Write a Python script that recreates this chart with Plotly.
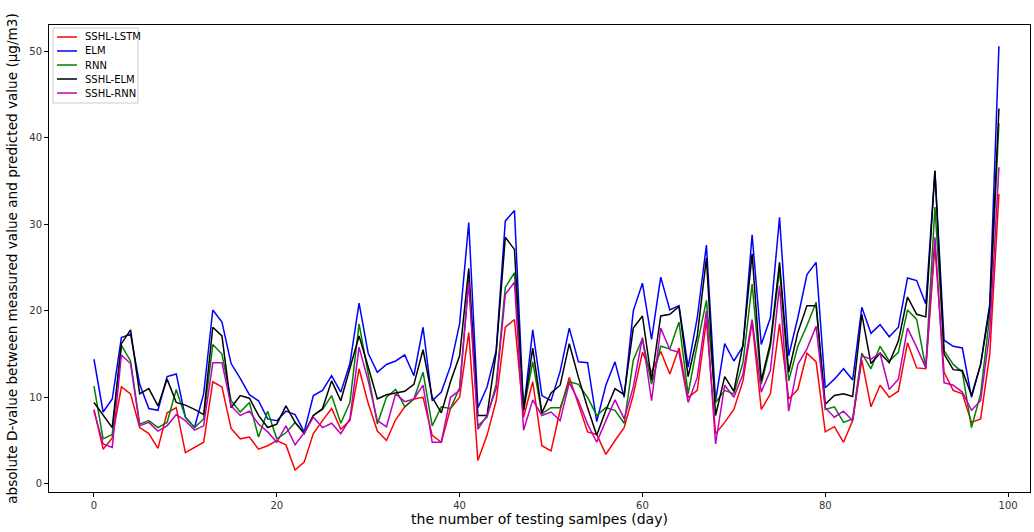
import plotly.graph_objects as go

days = list(range(100))

sshl_lstm = [8.6, 4.0, 5.3, 11.2, 10.4, 6.5, 5.8, 4.1, 8.2, 8.8,
             3.6, 4.2, 4.8, 11.8, 11.2, 6.4, 5.2, 5.4, 4.0, 4.4,
             5.0, 4.5, 1.6, 2.5, 5.8, 7.3, 8.7, 6.3, 7.3, 13.3,
             9.3, 6.1, 5.0, 7.4, 8.9, 9.8, 10.0, 5.6, 4.8, 8.7,
             10.0, 17.5, 2.7, 5.6, 9.6, 18.1, 19.0, 7.7, 11.8, 4.4,
             3.8, 8.5, 12.3, 9.2, 6.0, 5.7, 3.4, 5.0, 6.5, 10.3,
             15.2, 12.9, 15.3, 12.7, 15.7, 10.0, 10.8, 18.9, 5.8, 7.1,
             8.6, 11.9, 18.7, 8.6, 10.4, 18.5, 9.8, 10.9, 15.1, 14.1,
             6.0, 6.6, 4.8, 7.3, 14.3, 8.9, 11.4, 10.0, 10.7, 16.3,
             13.4, 13.3, 27.5, 12.9, 10.8, 10.4, 7.1, 7.5, 15.0, 33.5]

elm = [14.4, 8.3, 9.8, 16.9, 17.3, 11.5, 8.7, 8.5, 12.4, 12.7,
       7.7, 6.5, 10.4, 20.1, 18.7, 13.9, 12.2, 10.3, 9.6, 7.5,
       7.3, 8.4, 8.0, 6.0, 10.2, 10.8, 12.5, 10.6, 13.9, 20.9,
       15.1, 12.9, 13.8, 14.2, 14.9, 12.5, 18.1, 9.6, 10.6, 13.6,
       18.5, 30.2, 8.8, 11.2, 15.4, 30.4, 31.6, 8.5, 17.8, 10.2,
       9.6, 13.0, 18.0, 14.1, 14.0, 7.2, 11.4, 14.1, 10.0, 20.0,
       23.2, 16.7, 23.9, 20.1, 20.6, 13.5, 19.2, 27.6, 9.6, 16.2,
       14.2, 15.9, 28.8, 16.1, 19.2, 30.8, 14.8, 19.2, 24.2, 25.6,
       11.1, 12.1, 13.3, 12.0, 20.4, 17.4, 18.4, 17.0, 18.1, 23.8,
       23.5, 20.8, 36.2, 16.6, 15.9, 15.7, 10.0, 13.8, 20.8, 50.6]

rnn = [11.3, 5.2, 5.7, 16.0, 14.2, 6.9, 7.3, 6.5, 7.1, 10.9,
       7.7, 6.5, 7.5, 16.1, 15.0, 9.6, 8.3, 9.4, 5.4, 8.4,
       5.2, 5.9, 7.1, 5.9, 7.9, 8.6, 10.2, 7.0, 9.4, 18.5,
       12.7, 6.9, 10.0, 10.9, 8.9, 9.8, 12.9, 6.7, 8.9, 8.7,
       11.1, 23.6, 6.7, 7.7, 11.5, 22.7, 24.4, 8.5, 14.1, 8.1,
       8.8, 8.8, 11.8, 11.5, 10.0, 7.9, 8.8, 8.5, 7.0, 14.3,
       16.8, 11.5, 15.9, 15.6, 18.7, 10.4, 16.1, 21.2, 9.4, 10.8,
       10.4, 14.0, 23.1, 11.5, 15.9, 24.8, 11.9, 15.9, 18.3, 21.0,
       8.6, 8.9, 7.1, 7.5, 15.1, 13.3, 15.9, 14.2, 15.2, 20.1,
       19.0, 13.4, 32.0, 15.4, 13.8, 12.9, 6.5, 10.4, 19.5, 41.7]

sshl_elm = [9.4, 8.0, 6.5, 16.2, 17.8, 10.4, 11.0, 9.0, 12.1, 9.4,
            9.1, 8.6, 8.0, 18.1, 17.1, 8.8, 10.2, 9.9, 7.9, 6.5,
            6.9, 9.0, 7.1, 5.8, 7.9, 8.7, 11.9, 9.6, 13.5, 17.1,
            13.5, 9.8, 10.3, 10.5, 10.7, 11.5, 15.5, 10.0, 8.2, 11.8,
            14.8, 24.9, 7.9, 7.9, 15.2, 28.5, 27.1, 8.5, 15.7, 8.2,
            10.5, 11.4, 16.2, 12.3, 8.8, 5.6, 8.5, 11.0, 10.3, 18.0,
            19.4, 12.0, 19.4, 19.6, 20.5, 12.4, 17.1, 26.1, 7.9, 12.4,
            10.7, 16.1, 26.6, 11.9, 16.3, 25.6, 12.9, 17.5, 20.6, 20.6,
            9.2, 10.2, 10.4, 10.1, 19.6, 13.9, 15.1, 14.0, 16.5, 21.6,
            19.6, 19.3, 36.2, 15.0, 13.2, 13.1, 10.2, 13.8, 20.4, 43.4]

sshl_rnn = [8.4, 4.6, 4.2, 14.9, 13.9, 6.7, 7.1, 6.1, 6.7, 8.0,
            7.3, 6.2, 6.7, 14.0, 14.0, 9.0, 7.9, 8.4, 6.9, 6.0,
            4.8, 6.7, 4.5, 5.9, 7.7, 6.5, 7.0, 5.8, 7.5, 15.8,
            11.9, 7.3, 6.6, 10.4, 9.5, 9.8, 11.4, 4.8, 4.8, 10.0,
            10.8, 23.3, 6.3, 7.9, 11.0, 21.9, 23.3, 6.2, 9.7, 7.9,
            8.3, 7.3, 11.7, 9.6, 6.9, 4.8, 7.3, 9.7, 7.5, 11.2,
            16.9, 9.6, 18.0, 15.5, 15.2, 9.4, 12.3, 20.0, 4.6, 11.4,
            10.0, 12.7, 19.0, 10.6, 13.1, 22.9, 8.4, 13.8, 15.6, 18.2,
            8.8, 7.7, 8.4, 7.3, 14.8, 14.4, 15.1, 10.9, 12.1, 18.0,
            15.8, 13.4, 28.5, 11.7, 11.4, 10.6, 8.5, 9.6, 17.5, 36.6]

series_names = ["SSHL-LSTM", "ELM", "RNN", "SSHL-ELM", "SSHL-RNN"]
series_values = [sshl_lstm, elm, rnn, sshl_elm, sshl_rnn]
series_colors = ["#ff0000", "#0000ff", "#008000", "#000000", "#bf00bf"]

# plot-area geometry in pixels (used to place the compact legend box)
W, H = 1034, 532
ML, MR, MT, MB = 49, 4, 25, 40
PW, PH = W - ML - MR, H - MT - MB


def px_x(px):
    return (px - ML) / PW


def px_y(py):
    return (H - MB - py) / PH


fig = go.Figure()
for name, vals, color in zip(series_names, series_values, series_colors):
    fig.add_trace(go.Scatter(x=days, y=vals, mode="lines", name=name,
                             line=dict(color=color, width=1.5),
                             showlegend=False))

# compact matplotlib-style legend in the upper-left corner
shapes = [dict(type="rect", xref="paper", yref="paper",
               x0=px_x(53), x1=px_x(138), y0=px_y(103), y1=px_y(28),
               line=dict(color="#cccccc", width=1),
               fillcolor="rgba(255,255,255,0.8)", layer="above")]
annotations = []
row_y = [37, 51, 65, 79, 93]
for name, color, ry in zip(series_names, series_colors, row_y):
    shapes.append(dict(type="line", xref="paper", yref="paper",
                       x0=px_x(57), x1=px_x(77), y0=px_y(ry), y1=px_y(ry),
                       line=dict(color=color, width=1.5), layer="above"))
    annotations.append(dict(x=px_x(83), y=px_y(ry), xref="paper", yref="paper",
                            text=name, showarrow=False, xanchor="left",
                            yanchor="middle",
                            font=dict(family="DejaVu Sans", size=10, color="#000000")))

axis_common = dict(showline=True, linecolor="#000000", linewidth=1, mirror=True,
                   ticks="outside", ticklen=4, tickcolor="#000000",
                   showgrid=False, zeroline=False,
                   tickfont=dict(family="DejaVu Sans", size=10, color="#333333"))

fig.update_layout(
    width=W, height=H,
    margin=dict(l=ML, r=MR, t=MT, b=MB),
    paper_bgcolor="white", plot_bgcolor="white",
    font=dict(family="DejaVu Sans"),
    xaxis=dict(range=[-4.92, 102.4], tickvals=[0, 20, 40, 60, 80, 100],
               title=dict(text="the number of testing samlpes (day)",
                          font=dict(size=14, color="#000000"), standoff=4),
               **axis_common),
    yaxis=dict(range=[-0.95, 53.05], tickvals=[0, 10, 20, 30, 40, 50],
               title=dict(text="absolute D-value between measured value and predicted value (μg/m3)",
                          font=dict(size=13.6, color="#000000"), standoff=8),
               **axis_common),
    shapes=shapes,
    annotations=annotations,
    showlegend=False,
)

fig.write_html("out.html")
